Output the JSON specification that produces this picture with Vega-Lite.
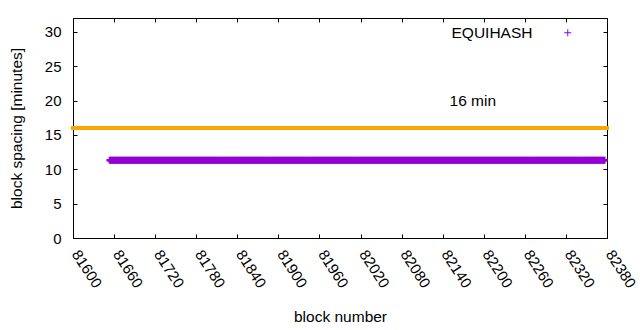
{
  "$schema": "https://vega.github.io/schema/vega-lite/v6.json",
  "width": 534,
  "height": 220,
  "autosize": {"type": "none"},
  "padding": {"left": 73, "top": 18, "right": 33, "bottom": 92},
  "background": "white",
  "config": {
    "view": {"stroke": "black", "strokeWidth": 1},
    "font": "Liberation Sans",
    "axis": {"domain": false, "grid": false, "labelFont": "Liberation Sans", "labelFontSize": 15, "labelColor": "black", "titleFont": "Liberation Sans", "titleFontSize": 15.5, "titleFontWeight": "normal", "titleColor": "black", "tickColor": "black", "tickWidth": 1}
  },
  "datasets": {
    "equihash": [
{"b":81654,"s":11.3},{"b":81656,"s":11.3},{"b":81658,"s":11.3},{"b":81660,"s":11.3},{"b":81662,"s":11.3},{"b":81664,"s":11.3},{"b":81666,"s":11.3},{"b":81668,"s":11.3},{"b":81670,"s":11.3},{"b":81672,"s":11.3},
{"b":81674,"s":11.3},{"b":81676,"s":11.3},{"b":81678,"s":11.3},{"b":81680,"s":11.3},{"b":81682,"s":11.3},{"b":81684,"s":11.3},{"b":81686,"s":11.3},{"b":81688,"s":11.3},{"b":81690,"s":11.3},{"b":81692,"s":11.3},
{"b":81694,"s":11.3},{"b":81696,"s":11.3},{"b":81698,"s":11.3},{"b":81700,"s":11.3},{"b":81702,"s":11.3},{"b":81704,"s":11.3},{"b":81706,"s":11.3},{"b":81708,"s":11.3},{"b":81710,"s":11.3},{"b":81712,"s":11.3},
{"b":81714,"s":11.3},{"b":81716,"s":11.3},{"b":81718,"s":11.3},{"b":81720,"s":11.3},{"b":81722,"s":11.3},{"b":81724,"s":11.3},{"b":81726,"s":11.3},{"b":81728,"s":11.3},{"b":81730,"s":11.3},{"b":81732,"s":11.3},
{"b":81734,"s":11.3},{"b":81736,"s":11.3},{"b":81738,"s":11.3},{"b":81740,"s":11.3},{"b":81742,"s":11.3},{"b":81744,"s":11.3},{"b":81746,"s":11.3},{"b":81748,"s":11.3},{"b":81750,"s":11.3},{"b":81752,"s":11.3},
{"b":81754,"s":11.3},{"b":81756,"s":11.3},{"b":81758,"s":11.3},{"b":81760,"s":11.3},{"b":81762,"s":11.3},{"b":81764,"s":11.3},{"b":81766,"s":11.3},{"b":81768,"s":11.3},{"b":81770,"s":11.3},{"b":81772,"s":11.3},
{"b":81774,"s":11.3},{"b":81776,"s":11.3},{"b":81778,"s":11.3},{"b":81780,"s":11.3},{"b":81782,"s":11.3},{"b":81784,"s":11.3},{"b":81786,"s":11.3},{"b":81788,"s":11.3},{"b":81790,"s":11.3},{"b":81792,"s":11.3},
{"b":81794,"s":11.3},{"b":81796,"s":11.3},{"b":81798,"s":11.3},{"b":81800,"s":11.3},{"b":81802,"s":11.3},{"b":81804,"s":11.3},{"b":81806,"s":11.3},{"b":81808,"s":11.3},{"b":81810,"s":11.3},{"b":81812,"s":11.3},
{"b":81814,"s":11.3},{"b":81816,"s":11.3},{"b":81818,"s":11.3},{"b":81820,"s":11.3},{"b":81822,"s":11.3},{"b":81824,"s":11.3},{"b":81826,"s":11.3},{"b":81828,"s":11.3},{"b":81830,"s":11.3},{"b":81832,"s":11.3},
{"b":81834,"s":11.3},{"b":81836,"s":11.3},{"b":81838,"s":11.3},{"b":81840,"s":11.3},{"b":81842,"s":11.3},{"b":81844,"s":11.3},{"b":81846,"s":11.3},{"b":81848,"s":11.3},{"b":81850,"s":11.3},{"b":81852,"s":11.3},
{"b":81854,"s":11.3},{"b":81856,"s":11.3},{"b":81858,"s":11.3},{"b":81860,"s":11.3},{"b":81862,"s":11.3},{"b":81864,"s":11.3},{"b":81866,"s":11.3},{"b":81868,"s":11.3},{"b":81870,"s":11.3},{"b":81872,"s":11.3},
{"b":81874,"s":11.3},{"b":81876,"s":11.3},{"b":81878,"s":11.3},{"b":81880,"s":11.3},{"b":81882,"s":11.3},{"b":81884,"s":11.3},{"b":81886,"s":11.3},{"b":81888,"s":11.3},{"b":81890,"s":11.3},{"b":81892,"s":11.3},
{"b":81894,"s":11.3},{"b":81896,"s":11.3},{"b":81898,"s":11.3},{"b":81900,"s":11.3},{"b":81902,"s":11.3},{"b":81904,"s":11.3},{"b":81906,"s":11.3},{"b":81908,"s":11.3},{"b":81910,"s":11.3},{"b":81912,"s":11.3},
{"b":81914,"s":11.3},{"b":81916,"s":11.3},{"b":81918,"s":11.3},{"b":81920,"s":11.3},{"b":81922,"s":11.3},{"b":81924,"s":11.3},{"b":81926,"s":11.3},{"b":81928,"s":11.3},{"b":81930,"s":11.3},{"b":81932,"s":11.3},
{"b":81934,"s":11.3},{"b":81936,"s":11.3},{"b":81938,"s":11.3},{"b":81940,"s":11.3},{"b":81942,"s":11.3},{"b":81944,"s":11.3},{"b":81946,"s":11.3},{"b":81948,"s":11.3},{"b":81950,"s":11.3},{"b":81952,"s":11.3},
{"b":81954,"s":11.3},{"b":81956,"s":11.3},{"b":81958,"s":11.3},{"b":81960,"s":11.3},{"b":81962,"s":11.3},{"b":81964,"s":11.3},{"b":81966,"s":11.3},{"b":81968,"s":11.3},{"b":81970,"s":11.3},{"b":81972,"s":11.3},
{"b":81974,"s":11.3},{"b":81976,"s":11.3},{"b":81978,"s":11.3},{"b":81980,"s":11.3},{"b":81982,"s":11.3},{"b":81984,"s":11.3},{"b":81986,"s":11.3},{"b":81988,"s":11.3},{"b":81990,"s":11.3},{"b":81992,"s":11.3},
{"b":81994,"s":11.3},{"b":81996,"s":11.3},{"b":81998,"s":11.3},{"b":82000,"s":11.3},{"b":82002,"s":11.3},{"b":82004,"s":11.3},{"b":82006,"s":11.3},{"b":82008,"s":11.3},{"b":82010,"s":11.3},{"b":82012,"s":11.3},
{"b":82014,"s":11.3},{"b":82016,"s":11.3},{"b":82018,"s":11.3},{"b":82020,"s":11.3},{"b":82022,"s":11.3},{"b":82024,"s":11.3},{"b":82026,"s":11.3},{"b":82028,"s":11.3},{"b":82030,"s":11.3},{"b":82032,"s":11.3},
{"b":82034,"s":11.3},{"b":82036,"s":11.3},{"b":82038,"s":11.3},{"b":82040,"s":11.3},{"b":82042,"s":11.3},{"b":82044,"s":11.3},{"b":82046,"s":11.3},{"b":82048,"s":11.3},{"b":82050,"s":11.3},{"b":82052,"s":11.3},
{"b":82054,"s":11.3},{"b":82056,"s":11.3},{"b":82058,"s":11.3},{"b":82060,"s":11.3},{"b":82062,"s":11.3},{"b":82064,"s":11.3},{"b":82066,"s":11.3},{"b":82068,"s":11.3},{"b":82070,"s":11.3},{"b":82072,"s":11.3},
{"b":82074,"s":11.3},{"b":82076,"s":11.3},{"b":82078,"s":11.3},{"b":82080,"s":11.3},{"b":82082,"s":11.3},{"b":82084,"s":11.3},{"b":82086,"s":11.3},{"b":82088,"s":11.3},{"b":82090,"s":11.3},{"b":82092,"s":11.3},
{"b":82094,"s":11.3},{"b":82096,"s":11.3},{"b":82098,"s":11.3},{"b":82100,"s":11.3},{"b":82102,"s":11.3},{"b":82104,"s":11.3},{"b":82106,"s":11.3},{"b":82108,"s":11.3},{"b":82110,"s":11.3},{"b":82112,"s":11.3},
{"b":82114,"s":11.3},{"b":82116,"s":11.3},{"b":82118,"s":11.3},{"b":82120,"s":11.3},{"b":82122,"s":11.3},{"b":82124,"s":11.3},{"b":82126,"s":11.3},{"b":82128,"s":11.3},{"b":82130,"s":11.3},{"b":82132,"s":11.3},
{"b":82134,"s":11.3},{"b":82136,"s":11.3},{"b":82138,"s":11.3},{"b":82140,"s":11.3},{"b":82142,"s":11.3},{"b":82144,"s":11.3},{"b":82146,"s":11.3},{"b":82148,"s":11.3},{"b":82150,"s":11.3},{"b":82152,"s":11.3},
{"b":82154,"s":11.3},{"b":82156,"s":11.3},{"b":82158,"s":11.3},{"b":82160,"s":11.3},{"b":82162,"s":11.3},{"b":82164,"s":11.3},{"b":82166,"s":11.3},{"b":82168,"s":11.3},{"b":82170,"s":11.3},{"b":82172,"s":11.3},
{"b":82174,"s":11.3},{"b":82176,"s":11.3},{"b":82178,"s":11.3},{"b":82180,"s":11.3},{"b":82182,"s":11.3},{"b":82184,"s":11.3},{"b":82186,"s":11.3},{"b":82188,"s":11.3},{"b":82190,"s":11.3},{"b":82192,"s":11.3},
{"b":82194,"s":11.3},{"b":82196,"s":11.3},{"b":82198,"s":11.3},{"b":82200,"s":11.3},{"b":82202,"s":11.3},{"b":82204,"s":11.3},{"b":82206,"s":11.3},{"b":82208,"s":11.3},{"b":82210,"s":11.3},{"b":82212,"s":11.3},
{"b":82214,"s":11.3},{"b":82216,"s":11.3},{"b":82218,"s":11.3},{"b":82220,"s":11.3},{"b":82222,"s":11.3},{"b":82224,"s":11.3},{"b":82226,"s":11.3},{"b":82228,"s":11.3},{"b":82230,"s":11.3},{"b":82232,"s":11.3},
{"b":82234,"s":11.3},{"b":82236,"s":11.3},{"b":82238,"s":11.3},{"b":82240,"s":11.3},{"b":82242,"s":11.3},{"b":82244,"s":11.3},{"b":82246,"s":11.3},{"b":82248,"s":11.3},{"b":82250,"s":11.3},{"b":82252,"s":11.3},
{"b":82254,"s":11.3},{"b":82256,"s":11.3},{"b":82258,"s":11.3},{"b":82260,"s":11.3},{"b":82262,"s":11.3},{"b":82264,"s":11.3},{"b":82266,"s":11.3},{"b":82268,"s":11.3},{"b":82270,"s":11.3},{"b":82272,"s":11.3},
{"b":82274,"s":11.3},{"b":82276,"s":11.3},{"b":82278,"s":11.3},{"b":82280,"s":11.3},{"b":82282,"s":11.3},{"b":82284,"s":11.3},{"b":82286,"s":11.3},{"b":82288,"s":11.3},{"b":82290,"s":11.3},{"b":82292,"s":11.3},
{"b":82294,"s":11.3},{"b":82296,"s":11.3},{"b":82298,"s":11.3},{"b":82300,"s":11.3},{"b":82302,"s":11.3},{"b":82304,"s":11.3},{"b":82306,"s":11.3},{"b":82308,"s":11.3},{"b":82310,"s":11.3},{"b":82312,"s":11.3},
{"b":82314,"s":11.3},{"b":82316,"s":11.3},{"b":82318,"s":11.3},{"b":82320,"s":11.3},{"b":82322,"s":11.3},{"b":82324,"s":11.3},{"b":82326,"s":11.3},{"b":82328,"s":11.3},{"b":82330,"s":11.3},{"b":82332,"s":11.3},
{"b":82334,"s":11.3},{"b":82336,"s":11.3},{"b":82338,"s":11.3},{"b":82340,"s":11.3},{"b":82342,"s":11.3},{"b":82344,"s":11.3},{"b":82346,"s":11.3},{"b":82348,"s":11.3},{"b":82350,"s":11.3},{"b":82352,"s":11.3},
{"b":82354,"s":11.3},{"b":82356,"s":11.3},{"b":82358,"s":11.3},{"b":82360,"s":11.3},{"b":82362,"s":11.3},{"b":82364,"s":11.3},{"b":82366,"s":11.3},{"b":82368,"s":11.3},{"b":82370,"s":11.3},{"b":82372,"s":11.3},
{"b":82374,"s":11.3},{"b":82376,"s":11.3}
    ],
    "threshold": [{"level": 16, "lx": 82150, "ly": 20, "label": "16 min"}]
  },
  "resolve": {"axis": {"x": "independent", "y": "independent"}},
  "layer": [
    {
      "data": {"name": "threshold"},
      "mark": {"type": "rule", "color": "#FFA500", "strokeWidth": 4, "strokeCap": "square"},
      "encoding": {
        "y": {"field": "level", "type": "quantitative", "scale": {"domain": [0, 32], "nice": false},
          "axis": {"orient": "left", "title": "block spacing [minutes]", "values": [0, 5, 10, 15, 20, 25, 30], "tickSize": -4, "labelPadding": 16, "titlePadding": 20}}
      }
    },
    {
      "data": {"name": "equihash"},
      "mark": {"type": "point", "shape": "M-1,0H1M0,-1V1", "size": 49, "filled": false, "strokeWidth": 2.6, "strokeCap": "butt", "opacity": 1},
      "encoding": {
        "x": {"field": "b", "type": "quantitative", "scale": {"domain": [81600, 82380], "nice": false, "zero": false},
          "axis": {"orient": "bottom", "title": "block number", "values": [81600, 81660, 81720, 81780, 81840, 81900, 81960, 82020, 82080, 82140, 82200, 82260, 82320, 82380], "format": "d", "tickSize": -4, "labelAngle": 57, "labelAlign": "left", "labelBaseline": "middle", "labelPadding": 17, "labelOffset": 2, "labelFlush": false, "labelOverlap": false, "titlePadding": 19}},
        "y": {"field": "s", "type": "quantitative", "scale": {"domain": [0, 32], "nice": false},
          "axis": {"orient": "right", "title": null, "labels": false, "values": [0, 5, 10, 15, 20, 25, 30], "tickSize": -4}},
        "color": {"datum": "EQUIHASH", "type": "nominal", "scale": {"range": ["#9400D3"]},
          "legend": {"title": null, "orient": "none", "legendX": 487, "legendY": 7, "symbolType": "M-1,0H1M0,-1V1", "symbolSize": 49, "symbolStrokeWidth": 1, "symbolFillColor": "transparent", "symbolStrokeColor": "#9400D3", "labelFont": "Liberation Sans", "labelFontSize": 15.5, "labelColor": "black", "labelAlign": "right", "labelOffset": -43, "padding": 0}}
      }
    },
    {
      "data": {"name": "threshold"},
      "mark": {"type": "text", "align": "left", "baseline": "middle", "font": "Liberation Sans", "fontSize": 15.5, "color": "black"},
      "encoding": {
        "x": {"field": "lx", "type": "quantitative", "scale": {"domain": [81600, 82380], "nice": false, "zero": false},
          "axis": {"orient": "top", "title": null, "labels": false, "values": [81600, 81660, 81720, 81780, 81840, 81900, 81960, 82020, 82080, 82140, 82200, 82260, 82320, 82380], "tickSize": -4}},
        "y": {"field": "ly", "type": "quantitative", "scale": {"domain": [0, 32], "nice": false}, "axis": null},
        "text": {"field": "label"}
      }
    }
  ]
}
